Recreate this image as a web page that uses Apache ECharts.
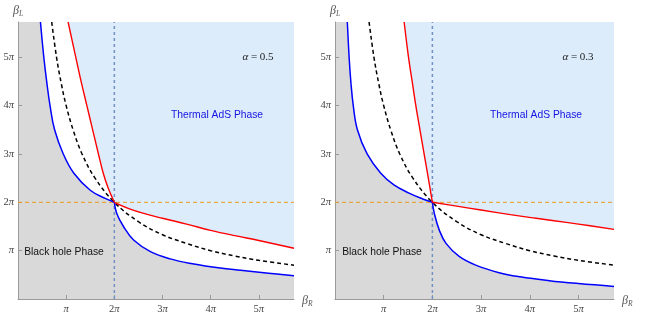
<!DOCTYPE html>
<html>
<head>
<meta charset="utf-8">
<script src="https://cdn.jsdelivr.net/npm/echarts@6/dist/echarts.min.js"></script>
<style>
  html, body { margin: 0; padding: 0; background: #fff; }
  #chart { width: 648px; height: 326px; }
</style>
</head>
<body>
<div id="chart"></div>
<script>
// all values in units of pi
var axisMax = 5.73;          // 18 / pi
var tickValues = [1, 2, 3, 4, 5];
var critical = 2;            // beta = 2 pi

// alpha = 0.5
var blue05Left = [[0.466, 5.73], [0.536, 5.0], [0.595, 4.5], [0.665, 4.0], [0.76, 3.5], [0.94, 3.0],
  [1.16, 2.6], [1.50, 2.25], [1.81, 2.08], [2, 2]];
var blue05Right = [[2, 2], [2.05, 1.77], [2.19, 1.50], [2.40, 1.22], [2.75, 0.98], [3.16, 0.83], [3.62, 0.73],
  [4.2, 0.64], [4.62, 0.595], [5.2, 0.535], [5.73, 0.48]];
var red05Left = [[1.04, 5.73], [1.20, 5.0], [1.31, 4.5], [1.43, 4.0], [1.55, 3.5], [1.67, 3.0],
  [1.77, 2.6], [1.87, 2.3], [2, 2]];
var red05Right = [[2, 2], [2.3, 1.87], [2.61, 1.77], [3.0, 1.67], [3.5, 1.55], [4.0, 1.42], [4.5, 1.31],
  [5.0, 1.21], [5.73, 1.05]];

// alpha = 0.3
var blue03Left = [[0.253, 5.73], [0.29, 5.0], [0.325, 4.5], [0.375, 4.0], [0.46, 3.5], [0.66, 3.0],
  [0.94, 2.6], [1.21, 2.36], [1.52, 2.19], [1.80, 2.07], [2, 2]];
var blue03Right = [[2, 2], [2.04, 1.77], [2.14, 1.43], [2.28, 1.15], [2.55, 0.88], [2.89, 0.70], [3.37, 0.545],
  [3.8, 0.46], [4.4, 0.38], [5.0, 0.32], [5.73, 0.26]];
var red03Left = [[1.42, 5.73], [1.51, 5.0], [1.585, 4.5], [1.66, 4.0], [1.745, 3.5], [1.83, 3.0],
  [1.90, 2.6], [1.95, 2.3], [2, 2]];
var red03Right = [[2, 2], [2.5, 1.92], [3.0, 1.84], [3.6, 1.745], [4.13, 1.67], [4.5, 1.62], [5.0, 1.55],
  [5.73, 1.44]];

// black dashed curve (same in both panels)
var dashedCurve = [[0.70, 5.73], [0.8, 5.0], [0.9, 4.45], [1.0, 4.0], [1.15, 3.48], [1.33, 3.0], [1.6, 2.5],
  [2, 2], [2.5, 1.6], [3, 1.33], [3.5, 1.15], [4, 1.0], [4.5, 0.89], [5, 0.8], [5.73, 0.70]];

var chart = echarts.init(document.getElementById('chart'));

function piLabel(v) {
  if (v === 1) return '{p|π}';
  return v + '{p|π}';
}

var labelRich = {
  p: { fontFamily: 'Liberation Serif', fontStyle: 'italic', fontSize: 10.5, color: '#444' }
};

function axisName(sub) {
  return '{b|β}{s|' + sub + '}';
}
var nameRich = {
  b: { fontFamily: 'Liberation Serif', fontStyle: 'italic', fontSize: 12, color: '#555' },
  s: { fontFamily: 'Liberation Serif', fontStyle: 'italic', fontSize: 7.5, color: '#555', padding: [6, 0, 0, 0] }
};

function xAxisCfg(i) {
  return {
    type: 'value', gridIndex: i, min: 0, max: axisMax, interval: 1,
    splitLine: { show: false },
    axisLine: { lineStyle: { color: '#9a9a9a', width: 1 } },
    axisTick: { inside: true, length: 4, customValues: tickValues, lineStyle: { color: '#9a9a9a' } },
    axisLabel: { customValues: tickValues, formatter: piLabel, margin: 5, color: '#444',
      fontFamily: 'Liberation Serif', fontSize: 10.5, rich: labelRich },
    name: axisName('R'), nameLocation: 'end', nameGap: 8,
    nameTextStyle: { rich: nameRich, verticalAlign: 'middle', padding: [4, 0, 0, 0] }
  };
}

function yAxisCfg(i) {
  return {
    type: 'value', gridIndex: i, min: 0, max: axisMax, interval: 1,
    splitLine: { show: false },
    axisLine: { lineStyle: { color: '#9a9a9a', width: 1 } },
    axisTick: { inside: true, length: 4, customValues: tickValues, lineStyle: { color: '#9a9a9a' } },
    axisLabel: { customValues: tickValues, formatter: piLabel, margin: 4, color: '#444',
      fontFamily: 'Liberation Serif', fontSize: 10.5, rich: labelRich },
    name: axisName('L'), nameLocation: 'end', nameGap: 4,
    nameTextStyle: { rich: nameRich, align: 'center' }
  };
}

function areaSeries(i, data, color) {
  return {
    type: 'line', xAxisIndex: i, yAxisIndex: i, data: data, smooth: 0.4,
    symbol: 'none', silent: true, z: 1,
    lineStyle: { opacity: 0 },
    areaStyle: { color: color, opacity: 1, origin: 'end' }
  };
}

function curveSeries(i, data, color, width, type) {
  return {
    type: 'line', xAxisIndex: i, yAxisIndex: i, data: data, smooth: 0.4,
    symbol: 'none', silent: true, z: 4,
    lineStyle: { color: color, width: width, type: type || 'solid' }
  };
}

function panelSeries(i, blueL, blueR, redL, redR) {
  return [
    areaSeries(i, blueL, '#ffffff'),
    areaSeries(i, blueR, '#ffffff'),
    areaSeries(i, redL, '#dcecfb'),
    areaSeries(i, redR, '#dcecfb'),
    {
      type: 'line', xAxisIndex: i, yAxisIndex: i, data: [[0, critical], [axisMax, critical]],
      symbol: 'none', silent: true, z: 3,
      lineStyle: { color: '#e89b1c', width: 1, type: [4, 3] }
    },
    {
      type: 'line', xAxisIndex: i, yAxisIndex: i, data: [[critical, 0], [critical, axisMax]],
      symbol: 'none', silent: true, z: 3,
      lineStyle: { color: '#7290c4', width: 1.5, type: [3, 3] }
    },
    curveSeries(i, dashedCurve, '#000000', 1.5, [4, 3]),
    curveSeries(i, blueL, '#0000ff', 1.5),
    curveSeries(i, blueR, '#0000ff', 1.5),
    curveSeries(i, redL, '#ff0000', 1.4),
    curveSeries(i, redR, '#ff0000', 1.4)
  ];
}

function phaseText(x, y, text, color) {
  return {
    type: 'text', x: x, y: y, z: 10,
    style: { text: text, fill: color, fontFamily: 'Liberation Sans', fontSize: 10.3,
      align: 'center', verticalAlign: 'middle' }
  };
}

function alphaText(x, y, val) {
  return {
    type: 'text', x: x, y: y, z: 10,
    style: { text: '{a|α} = ' + val, fill: '#222', fontFamily: 'Liberation Serif', fontSize: 11,
      align: 'center', verticalAlign: 'middle',
      rich: { a: { fontFamily: 'Liberation Serif', fontStyle: 'italic', fontSize: 11, fill: '#222' } } }
  };
}

var option = {
  animation: false,
  backgroundColor: '#ffffff',
  grid: [
    { left: 18, top: 22, width: 276, height: 277, show: true, backgroundColor: '#d9d9d9', borderWidth: 0 },
    { left: 335, top: 22, width: 279, height: 277, show: true, backgroundColor: '#d9d9d9', borderWidth: 0 }
  ],
  xAxis: [xAxisCfg(0), xAxisCfg(1)],
  yAxis: [yAxisCfg(0), yAxisCfg(1)],
  series: panelSeries(0, blue05Left, blue05Right, red05Left, red05Right)
    .concat(panelSeries(1, blue03Left, blue03Right, red03Left, red03Right)),
  graphic: [
    phaseText(217, 115, 'Thermal AdS Phase', '#1414e0'),
    phaseText(64, 252, 'Black hole Phase', '#111'),
    alphaText(258, 57, '0.5'),
    phaseText(536, 115, 'Thermal AdS Phase', '#1414e0'),
    phaseText(382, 252, 'Black hole Phase', '#111'),
    alphaText(578, 57, '0.3')
  ]
};

chart.setOption(option);
</script>
</body>
</html>
